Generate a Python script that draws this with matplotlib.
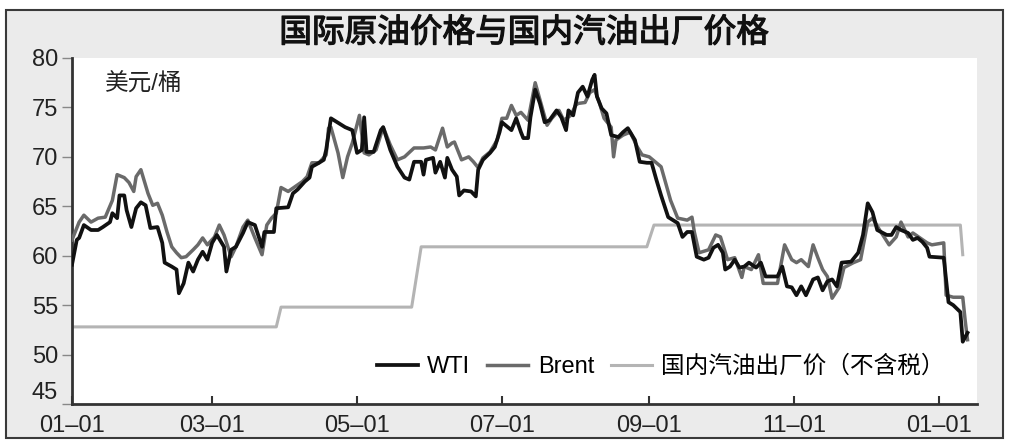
import numpy as np
import matplotlib
matplotlib.use("Agg")
import matplotlib.pyplot as plt
import matplotlib.dates as mdates
from matplotlib.patches import Rectangle
import matplotlib.patheffects as pe

plt.rcParams['font.family'] = ['Liberation Sans', 'Noto Sans CJK SC']
plt.rcParams['axes.unicode_minus'] = False

# 日期以 2006-01-01 起算的天数表示
start = np.datetime64('2006-01-01')

wti_day = [0, 2, 3, 5, 8, 11, 13, 16, 17, 19,
           20, 22, 23, 25, 27, 29, 31, 33, 36, 38,
           39, 42, 44, 45, 47, 49, 51, 53, 55, 57,
           59, 61, 64, 65, 67, 69, 72, 74, 77, 80,
           81, 85, 86, 91, 93, 95, 98, 100, 101, 104,
           106, 107, 109, 115, 118, 120, 122, 123, 124, 127,
           130, 131, 134, 137, 140, 142, 144, 147, 148, 149,
           152, 153, 155, 157, 158, 160, 162, 163, 165, 168,
           170, 171, 173, 176, 178, 180, 181, 184, 185, 187,
           189, 190, 192, 193, 195, 197, 199, 201, 204, 206,
           208, 209, 211, 213, 215, 217, 219, 220, 221, 223,
           225, 227, 230, 232, 234, 237, 239, 242, 244, 246,
           248, 251, 253, 255, 257, 259, 261, 263, 266, 268,
           270, 272, 274, 275, 277, 279, 281, 283, 285, 288,
           290, 292, 297, 299, 301, 303, 305, 307, 309, 312,
           314, 316, 318, 320, 322, 324, 328, 331, 333, 335,
           337, 339, 343, 345, 347, 349, 352, 354, 356, 358,
           360, 361, 367, 369, 371, 374, 375, 377]
wti_price = [59.1, 61.6, 61.8, 63.1, 62.6, 62.6, 62.9, 63.4, 64.3, 63.8,
             66.1, 66.1, 64.6, 62.9, 64.8, 65.4, 65.1, 62.8, 62.9, 61.3,
             59.3, 58.9, 58.6, 56.2, 57.2, 59.3, 58.4, 59.6, 60.4, 59.6,
             61.3, 62.1, 60.9, 58.4, 60.6, 60.9, 62.3, 63.4, 63.1, 60.9,
             62.4, 62.4, 64.8, 64.9, 66.3, 66.7, 67.5, 67.9, 69.0, 69.4,
             69.7, 70.7, 73.9, 73.0, 72.7, 70.4, 70.7, 74.0, 70.5, 70.5,
             72.7, 73.0, 70.7, 69.0, 67.9, 67.7, 69.5, 69.5, 68.2, 69.7,
             69.9, 68.4, 69.5, 67.9, 69.9, 68.7, 68.0, 66.1, 66.6, 66.5,
             66.0, 68.7, 69.7, 70.4, 71.0, 72.5, 73.5, 72.9, 72.7, 73.9,
             72.5, 71.9, 71.9, 74.0, 76.8, 75.4, 73.5, 73.7, 74.7, 74.0,
             72.7, 74.7, 74.2, 76.5, 77.1, 76.1, 77.8, 78.3, 76.1, 74.9,
             74.4, 72.2, 72.0, 72.5, 72.9, 71.7, 69.5, 69.4, 69.4, 67.7,
             66.1, 63.9, 63.6, 63.3, 61.9, 62.4, 62.4, 59.9, 59.6, 59.8,
             60.8, 61.1, 60.3, 58.6, 58.9, 59.6, 58.8, 58.9, 59.3, 58.8,
             59.3, 57.9, 57.9, 58.9, 56.9, 56.8, 56.0, 56.9, 56.0, 57.6,
             57.8, 56.5, 57.4, 57.6, 56.9, 59.3, 59.4, 60.3, 62.1, 65.3,
             64.4, 62.6, 62.1, 62.1, 62.9, 62.6, 62.3, 61.6, 61.8, 61.4,
             60.8, 59.9, 59.8, 55.3, 55.0, 54.3, 51.3, 52.2]

brent_day = [0, 3, 5, 8, 11, 14, 17, 19, 22, 24,
             26, 27, 29, 32, 34, 36, 38, 40, 42, 44,
             46, 48, 51, 53, 55, 57, 60, 62, 64, 67,
             69, 72, 74, 77, 80, 82, 84, 86, 88, 91,
             94, 97, 99, 101, 104, 107, 108, 109, 112, 114,
             116, 118, 121, 123, 125, 128, 131, 134, 137, 140,
             144, 148, 151, 153, 156, 158, 160, 161, 164, 167,
             169, 171, 173, 176, 179, 181, 183, 185, 187, 189,
             192, 195, 198, 200, 202, 205, 207, 210, 212, 213,
             216, 218, 220, 222, 224, 227, 228, 229, 232, 235,
             238, 240, 243, 248, 252, 255, 259, 261, 262, 264,
             268, 271, 273, 276, 279, 282, 283, 286, 289, 291,
             297, 300, 303, 305, 307, 310, 312, 314, 316, 318,
             320, 323, 325, 329, 332, 335, 337, 340, 344, 347,
             349, 352, 354, 357, 360, 362, 367, 368, 371, 375,
             376, 377]
brent_price = [61.6, 63.4, 64.1, 63.4, 63.8, 63.9, 65.6, 68.2, 67.9, 67.4,
               66.5, 68.0, 68.7, 66.3, 65.1, 65.3, 64.1, 62.4, 60.9, 60.3,
               59.8, 59.9, 60.6, 61.1, 61.8, 61.1, 61.9, 63.1, 62.1, 59.9,
               60.9, 62.9, 63.6, 61.8, 60.1, 63.1, 63.8, 64.3, 66.9, 66.5,
               67.0, 67.5, 68.0, 69.4, 69.4, 70.2, 72.9, 73.0, 70.4, 67.9,
               70.0, 71.4, 74.2, 70.4, 70.2, 70.7, 73.0, 71.2, 69.7, 70.0,
               70.9, 70.9, 71.0, 70.7, 72.9, 71.0, 71.4, 71.5, 69.7, 70.0,
               69.5, 68.9, 69.9, 70.5, 71.7, 73.9, 73.9, 75.2, 74.2, 74.5,
               73.7, 77.5, 74.9, 73.2, 73.9, 74.7, 73.7, 74.2, 75.2, 75.4,
               75.5, 76.5, 76.8, 75.5, 73.9, 73.0, 70.0, 71.7, 72.2, 72.5,
               71.0, 70.2, 70.0, 69.0, 65.6, 63.8, 63.6, 63.9, 62.4, 60.3,
               60.6, 62.1, 61.9, 59.6, 59.8, 57.8, 58.9, 58.6, 60.1, 57.2,
               57.2, 61.1, 59.6, 59.3, 59.6, 58.9, 61.1, 59.8, 58.6, 57.9,
               55.7, 56.8, 58.8, 59.3, 59.6, 63.4, 63.8, 62.6, 61.1, 61.9,
               63.4, 61.9, 62.3, 61.8, 61.3, 61.1, 61.3, 56.0, 55.8, 55.8,
               53.5, 51.5]

dom_day = [0, 86, 88, 143, 147, 242, 245, 374, 375]
dom_price = [52.8, 52.8, 54.8, 54.8, 60.9, 60.9, 63.1, 63.1, 60.1]

labels = ['WTI', 'Brent', '国内汽油出厂价（不含税）']


def to_dates(days):
    return start + np.array(days).astype('timedelta64[D]')


fig = plt.figure(figsize=(10.16, 4.41), dpi=100, facecolor='white')
# 灰色底板和外框
fig.patches.append(Rectangle((6 / 1016, 1 - 438 / 441), 997 / 1016, 428 / 441,
                             transform=fig.transFigure, facecolor='#ebebeb',
                             edgecolor='#3a3a3a', linewidth=1.5, zorder=-5))

ax = fig.add_axes([72 / 1016, 1 - 404 / 441, 905 / 1016, 346 / 441])
ax.set_zorder(2)
ax.set_facecolor('white')

ax.plot(to_dates(dom_day), dom_price, color='#b4b4b4', lw=2.2, label=labels[2], zorder=2)
ax.plot(to_dates(brent_day), brent_price, color='#6a6a6a', lw=2.5, label=labels[1], zorder=3)
ax.plot(to_dates(wti_day), wti_price, color='#111111', lw=2.7, label=labels[0], zorder=4)

ax.set_ylim(45, 80)
ax.set_yticks(np.arange(45, 81, 5))
ax.set_xlim(start, start + np.timedelta64(381, 'D'))
ax.xaxis.set_major_locator(mdates.MonthLocator(bymonth=[1, 3, 5, 7, 9, 11]))
ax.xaxis.set_major_formatter(mdates.DateFormatter('%m–%d'))

for s in ['top', 'right']:
    ax.spines[s].set_visible(False)
for s in ['left', 'bottom']:
    ax.spines[s].set_color('#333333')
    ax.spines[s].set_linewidth(2)

ax.tick_params(axis='y', direction='out', length=7, width=1, color='#888888',
               labelsize=17, pad=3, labelcolor='#222222')
ax.tick_params(axis='x', direction='in', length=6, width=1.5, color='#333333',
               labelsize=17, pad=8, labelcolor='#222222')
ax.get_yticklabels()[0].set_verticalalignment('bottom')

ax.text(0.036, 0.922, '美元/桶', transform=ax.transAxes, fontsize=17,
        va='center', ha='left', color='#222222')

# 标题：常规字重加细描边，比 bold 略轻
fig.text(524 / 1016, 1 - 33 / 441, '国际原油价格与国内汽油出厂价格',
         fontsize=23.5, ha='center', va='center', color='#111111',
         family=['Noto Sans CJK SC'], zorder=5,
         path_effects=[pe.withStroke(linewidth=0.9, foreground='#111111')])

handles, lbls = ax.get_legend_handles_labels()
order = [2, 1, 0]
ax.legend([handles[i] for i in order], [lbls[i] for i in order], ncol=3,
          loc='center right', bbox_to_anchor=(0.975, 0.107), frameon=False,
          fontsize=17, handlelength=1.75, handletextpad=0.4, columnspacing=0.7,
          borderaxespad=0)

fig.savefig('out.png', dpi=100, facecolor='white')
